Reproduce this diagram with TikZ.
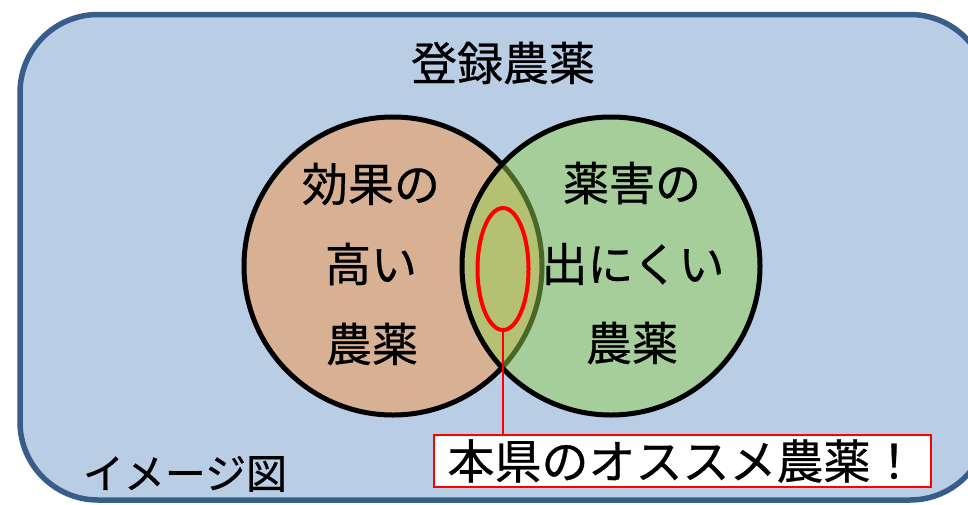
\documentclass[tikz,border=0pt]{standalone}
\usepackage{fontspec}
\newfontfamily\jpfont[FakeBold=0.6]{Noto Sans CJK JP}
\usetikzlibrary{shapes.geometric}
\definecolor{bgblue}{HTML}{B9CDE5}
\definecolor{bordblue}{HTML}{385D8A}
\definecolor{offorange}{HTML}{F79646}
\definecolor{offgreen}{HTML}{92D050}
\begin{document}
\begin{tikzpicture}[x=1pt,y=-1pt,
  lbl/.style={font=\jpfont\fontsize{46}{50}\selectfont, inner sep=0pt, anchor=center},
  setc/.style={circle, draw=black, line width=5pt, minimum size=298pt, inner sep=0pt}]
\useasboundingbox (0,0) rectangle (968,504);
\clip (0,0) rectangle (968,504);
\draw[bordblue, fill=bgblue, line width=5.5pt, rounded corners=78pt] (20,14.5) rectangle (988,500);
\node[setc, fill=offorange, fill opacity=0.5] (L) at (393,266) {};
\node[setc, fill=offgreen, fill opacity=0.5] (R) at (611,266) {};
\node[lbl] (t0) at (503,63) {登録農薬};
\node[lbl] (l1) at (371,184) {効果の};
\node[lbl] (l2) at (371,264) {高い};
\node[lbl] (l3) at (372,344) {農薬};
\node[lbl] (r1) at (632,183) {薬害の};
\node[lbl] (r2) at (633,264) {出にくい};
\node[lbl] (r3) at (632,343) {農薬};
\node[ellipse, draw=red, line width=4pt, minimum width=51pt, minimum height=122pt, inner sep=0pt] (E) at (503,269) {};
\node[draw=red, line width=2.2pt, fill=white, minimum width=497pt, minimum height=52pt, inner sep=0pt, font=\jpfont\fontsize{47}{50}\selectfont] (B) at (682.5,461) {本県のオススメ農薬！};
\draw[red, line width=2.2pt] (E.south) -- (E.south |- B.north);
\node[font=\jpfont\fontsize{41}{45}\selectfont, inner sep=0pt] (cap) at (185,474) {イメージ図};
\end{tikzpicture}
\end{document}
